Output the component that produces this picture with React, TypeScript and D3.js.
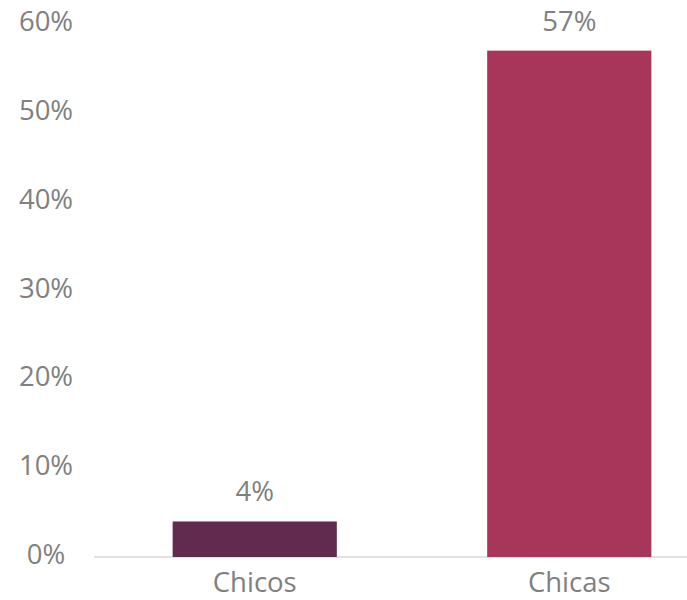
import React from "react";
import * as d3 from "d3";

const categories = ["Chicos", "Chicas"];
const values = [4, 57];
const colors = ["#612b4f", "#a8365a"];
const yTicks = [0, 10, 20, 30, 40, 50, 60];

const W = 687;
const H = 600;

export default function App() {
  const x = d3.scaleBand<string>().domain(categories).range([94, 730]).paddingInner(0.478).paddingOuter(0.25);
  const y = d3.scaleLinear().domain([0, 60]).range([557, 24]);
  const font = "'Open Sans', sans-serif";
  const fs = 27.5;
  return (
    <svg width={W} height={H} style={{ position: "absolute", left: 0, top: 0 }}>
      <rect width={W} height={H} fill="#ffffff" />
      {yTicks.map((t) => (
        <text
          key={t}
          x={46}
          y={y(t) + 7}
          textAnchor="middle"
          fontFamily={font}
          fontSize={fs}
          fill="#808080"
        >
          {t}%
        </text>
      ))}
      <line x1={94} x2={687} y1={y(0)} y2={y(0)} stroke="#d9d9d9" strokeWidth={1.5} />
      {categories.map((c, i) => (
        <g key={c}>
          <rect x={x(c)} y={y(values[i])} width={x.bandwidth()} height={y(0) - y(values[i])} fill={colors[i]} />
          <text
            x={(x(c) as number) + x.bandwidth() / 2}
            y={y(values[i]) - 20}
            textAnchor="middle"
            fontFamily={font}
            fontSize={fs}
            fill="#808080"
          >
            {values[i]}%
          </text>
          <text
            x={(x(c) as number) + x.bandwidth() / 2}
            y={592}
            textAnchor="middle"
            fontFamily={font}
            fontSize={fs}
            fill="#808080"
          >
            {c}
          </text>
        </g>
      ))}
    </svg>
  );
}
